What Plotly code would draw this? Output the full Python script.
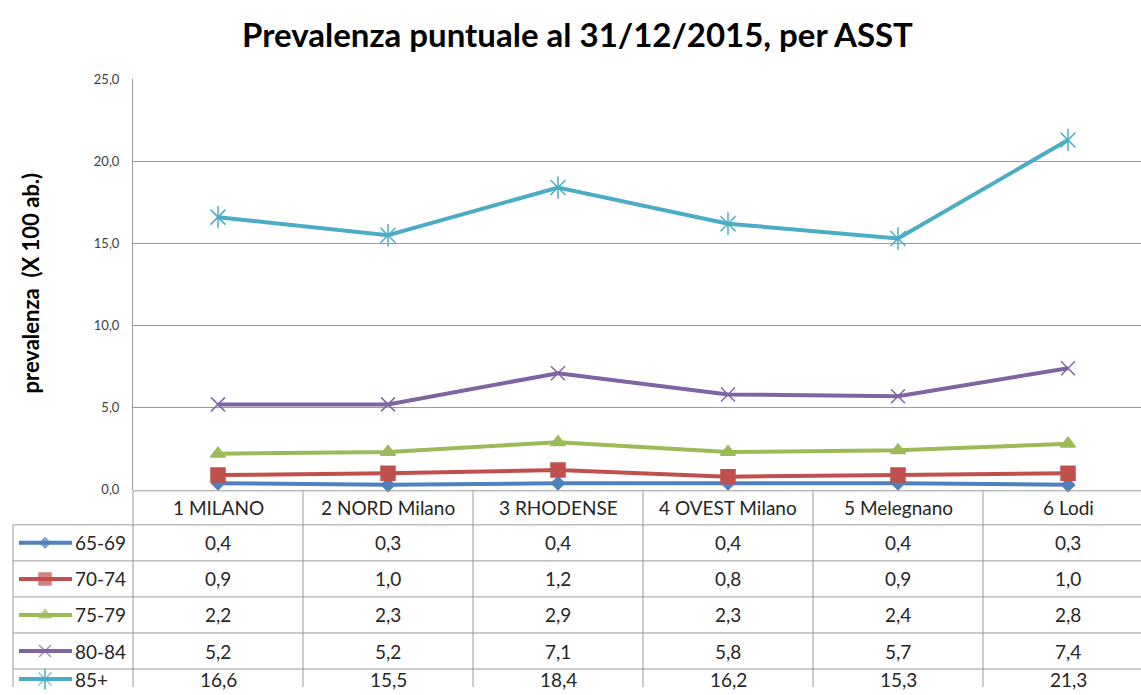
import plotly.graph_objects as go

asst = ["1 MILANO", "2 NORD Milano", "3 RHODENSE", "4 OVEST Milano", "5 Melegnano", "6 Lodi"]
age_groups = ["65-69", "70-74", "75-79", "80-84", "85+"]
prev_65_69 = [0.4, 0.3, 0.4, 0.4, 0.4, 0.3]
prev_70_74 = [0.9, 1.0, 1.2, 0.8, 0.9, 1.0]
prev_75_79 = [2.2, 2.3, 2.9, 2.3, 2.4, 2.8]
prev_80_84 = [5.2, 5.2, 7.1, 5.8, 5.7, 7.4]
prev_85_plus = [16.6, 15.5, 18.4, 16.2, 15.3, 21.3]
series = [prev_65_69, prev_70_74, prev_75_79, prev_80_84, prev_85_plus]

colors = ["#4F81BD", "#C0504D", "#9BBB59", "#8064A2", "#4BACC6"]
symbols = ["diamond", "square", "triangle-up", "x-thin-open", "x-thin-open"]
sizes = [10, 14, 13, 14, 15]

W, H = 1141, 695

# layout in screen pixels (Excel-like chart with data table)
PLOT_L, PLOT_T, PLOT_B = 133, 79, 489
COL_W = 170
ROW_TOP, HEADER_H, ROW_H = 490, 34, 36
TABLE_L = 13
LAST_MID = 678  # last table row is cut by the bottom edge: keep its text visible
GRID = "#9a9a9a"
FONT = "Lato"
TXT = "#262626"

# the photographed page comes out a bit squeezed vertically; correct for it
Y0, YS = 7.9, 0.9756


def sy(t):
    return (t - Y0) / YS


def fmt(v):
    return f"{v:.1f}".replace(".", ",")


def row_mid(j):
    return sy(min(ROW_TOP + HEADER_H + ROW_H * j + ROW_H / 2, LAST_MID))


fig = go.Figure()

for name, vals, c, sym, sz in zip(age_groups, series, colors, symbols, sizes):
    fig.add_trace(go.Scatter(
        x=asst, y=vals, name=name, mode="lines+markers",
        line=dict(color=c, width=4),
        marker=dict(symbol=sym, size=sz, color=c, line=dict(color=c, width=1.5)),
        cliponaxis=False, showlegend=False,
    ))
# star marker of 85+: add the vertical stroke
fig.add_trace(go.Scatter(
    x=asst, y=prev_85_plus, mode="markers",
    marker=dict(symbol="line-ns-open", size=16, color=colors[4],
                line=dict(color=colors[4], width=1.5)),
    cliponaxis=False, showlegend=False, hoverinfo="skip",
))

# legend keys inside the data table (x2/y2 are pixel axes over the whole figure)
for i, (name, c, sym, sz) in enumerate(zip(age_groups, colors, symbols, sizes)):
    yc = row_mid(i)
    fig.add_trace(go.Scatter(
        x=[19, 45, 72], y=[yc] * 3, mode="lines+markers",
        line=dict(color=c, width=4),
        marker=dict(symbol=sym, size=[0, sz - 2, 0], color=c, line=dict(color=c, width=1.5)),
        xaxis="x2", yaxis="y2", showlegend=False, hoverinfo="skip", cliponaxis=False,
    ))
    if i == 4:
        fig.add_trace(go.Scatter(
            x=[45], y=[yc], mode="markers",
            marker=dict(symbol="line-ns-open", size=sz, color=c, line=dict(color=c, width=1.5)),
            xaxis="x2", yaxis="y2", showlegend=False, hoverinfo="skip", cliponaxis=False,
        ))

shapes = []
line = dict(color=GRID, width=1)
for k in range(len(asst)):
    x = PLOT_L + COL_W * k
    shapes.append(dict(type="line", xref="x2", yref="y2", x0=x, x1=x,
                       y0=sy(ROW_TOP), y1=H + 20, line=line))
shapes.append(dict(type="line", xref="x2", yref="y2", x0=TABLE_L, x1=TABLE_L,
                   y0=sy(ROW_TOP + HEADER_H), y1=H + 20, line=line))
shapes.append(dict(type="line", xref="x2", yref="y2", x0=PLOT_L, x1=W + 5,
                   y0=sy(ROW_TOP), y1=sy(ROW_TOP), line=line))
for j in range(len(age_groups)):
    y = sy(ROW_TOP + HEADER_H + ROW_H * j)
    shapes.append(dict(type="line", xref="x2", yref="y2", x0=TABLE_L, x1=W + 5,
                       y0=y, y1=y, line=line))

annotations = []
for i, cat in enumerate(asst):
    xc = PLOT_L + COL_W * (i + 0.5)
    annotations.append(dict(xref="x2", yref="y2", x=xc, y=sy(ROW_TOP + HEADER_H / 2),
                            text=cat, showarrow=False,
                            font=dict(size=19, color=TXT)))
    for j, vals in enumerate(series):
        annotations.append(dict(xref="x2", yref="y2", x=xc, y=row_mid(j),
                                text=fmt(vals[i]), showarrow=False,
                                font=dict(size=19, color=TXT)))
for j, name in enumerate(age_groups):
    annotations.append(dict(xref="x2", yref="y2", x=73, y=row_mid(j), xanchor="left",
                            text=name, showarrow=False,
                            font=dict(size=19, color=TXT)))

annotations.append(dict(xref="x2", yref="y2", x=577, y=sy(34), yanchor="middle",
                        text="<b>Prevalenza puntuale al 31/12/2015, per ASST</b>",
                        showarrow=False, font=dict(size=33, color="#000000")))
annotations.append(dict(xref="x2", yref="y2", x=30, y=sy(283), yanchor="middle",
                        text="<b>prevalenza  (X 100 ab.)</b>", textangle=-90,
                        showarrow=False, font=dict(size=22, color="#000000")))

fig.update_layout(
    width=W, height=H,
    margin=dict(l=0, r=0, t=0, b=0),
    paper_bgcolor="white", plot_bgcolor="rgba(0,0,0,0)",
    font=dict(family=FONT, color="#404040"),
    separators=",.",
    xaxis=dict(domain=[PLOT_L / W, 1], type="category",
               range=[-0.5, -0.5 + (W - PLOT_L) / COL_W],
               showticklabels=False, showgrid=False, zeroline=False, ticks=""),
    yaxis=dict(domain=[1 - sy(PLOT_B) / H, 1 - sy(PLOT_T) / H], range=[0, 25], dtick=5,
               tickformat=".1f", gridcolor=GRID, gridwidth=1, showline=True,
               linecolor=GRID, linewidth=1, zeroline=False, ticks="",
               ticklabelstandoff=10, tickfont=dict(size=13, color="#404040")),
    # pixel overlay covering the whole figure, used for the table and texts
    xaxis2=dict(domain=[0, 1], range=[0, W], visible=False, anchor="y2"),
    yaxis2=dict(domain=[0, 1], range=[H, 0], visible=False, anchor="x2"),
    shapes=shapes,
    annotations=annotations,
)

page_fix = (
    "document.body.style.margin = '0';"
    "document.body.style.fontSize = '0';"
    "document.body.style.lineHeight = '0';"
    "document.documentElement.style.overflow = 'hidden';"
)
fig.write_html("out.html", config={"displayModeBar": False}, post_script=page_fix)
